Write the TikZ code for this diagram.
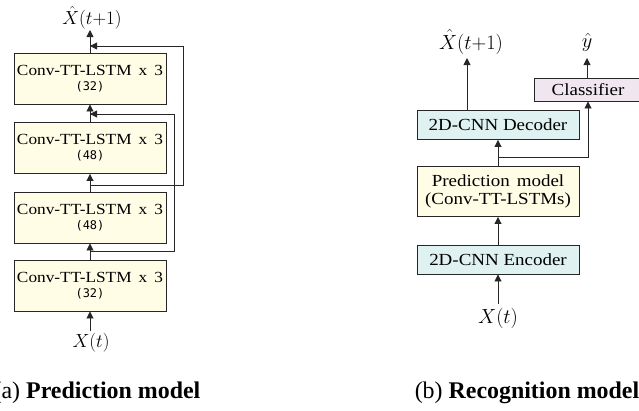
\RequirePackage{fix-cm}
\documentclass[tikz,border=0pt]{standalone}
\usepackage{fontspec}
\setmainfont{Liberation Serif}[FakeStretch=1.12]
\newfontfamily\capfont{Liberation Serif}
\newfontfamily\numfont{DejaVu Sans Mono}
\usetikzlibrary{arrows.meta}
\definecolor{boxyellow}{HTML}{FFFDE6}
\definecolor{boxcyan}{HTML}{DFF1F1}
\definecolor{boxpink}{HTML}{F0E6F0}
\newcommand\lstmtext[1]{\makebox[146bp][s]{Conv-TT-LSTM x 3}\\[-1pt]{\numfont\fontsize{12}{13}\selectfont(#1)}}
\tikzset{
  box/.style={draw=black!85, line width=0.9bp, inner sep=0pt, align=center},
  lstm/.style={box, fill=boxyellow, minimum width=152bp, minimum height=51bp, font=\fontsize{15.5}{16}\selectfont},
  cyanbox/.style={box, fill=boxcyan, minimum width=162bp, minimum height=29bp, font=\fontsize{17}{18}\selectfont},
  predbox/.style={box, fill=boxyellow, minimum width=162bp, minimum height=50bp, font=\fontsize{17}{18}\selectfont},
  clsbox/.style={box, fill=boxpink, minimum width=108bp, minimum height=23bp, font=\fontsize{17}{18}\selectfont},
  mathl/.style={inner sep=0pt, font=\fontsize{19}{22}\selectfont},
  mathr/.style={inner sep=0pt, font=\fontsize{20.5}{24}\selectfont},
  capt/.style={inner sep=0pt, font=\capfont\fontsize{24}{26}\selectfont},
  arr/.style={line width=0.9bp, draw=black!85, -{Triangle[length=7bp,width=7bp]}}
}
\begin{document}
\begin{tikzpicture}[x=1bp,y=-1bp]
\useasboundingbox (0,0) rectangle (639,410);
% ---- (a) prediction model ----
\node[lstm] (l1) at (90,78.5) {\lstmtext{32}};
\node[lstm] (l2) at (90,148) {\lstmtext{48}};
\node[lstm] (l3) at (90,217.5) {\lstmtext{48}};
\node[lstm] (l4) at (90,285.5) {\lstmtext{32}};
\node[mathl] (xo) at (92,18) {$\hat{X}(t{+}1)$};
\node[mathl] (xi) at (91,343) {$X(t)$};
\coordinate (xotip) at (90,30);
\coordinate (xitail) at (90,331);
\draw[arr] (xitail) -- (l4.south);
\draw[arr] (l4.north) -- (l3.south);
\draw[arr] (l3.north) -- (l2.south);
\draw[arr] (l2.north) -- (l1.south);
\draw[arr] (l1.north) -- (xotip);
\coordinate (s1) at (90,185);
\coordinate (s1e) at (90,46);
\coordinate (s2) at (90,251);
\coordinate (s2e) at (90,114);
\draw[arr] (s1) -- ++(93,0) |- (s1e);
\draw[arr] (s2) -- ++(84,0) |- (s2e);
\node[capt] (capa) at (97,393) {(a) \textbf{Prediction model}};
% ---- (b) recognition model ----
\node[cyanbox] (enc) at (498,259.5) {2D-CNN Encoder};
\node[predbox] (pred) at (498,191.5) {Prediction\hspace{7bp}model\\(Conv-TT-LSTMs)};
\node[cyanbox] (dec) at (498,125) {2D-CNN Decoder};
\node[clsbox] (cls) at (588,89.5) {Classifier};
\node[mathr] (xo2) at (471,42) {$\hat{X}(t{+}1)$};
\node[mathr] (yh) at (587,42) {$\hat{y}$};
\node[mathr] (xi2) at (498,318) {$X(t)$};
\coordinate (xi2tail) at (498,304);
\coordinate (br) at (498,157);
\coordinate (dtail) at (467,110.5);
\coordinate (rtip) at (0,58);
\draw[arr] (xi2tail) -- (enc.south);
\draw[arr] (enc.north) -- (pred.south);
\draw[arr] (pred.north) -- (dec.south);
\draw[arr] (br) -| (cls.south);
\draw[arr] (dtail) -- (dtail |- rtip);
\draw[arr] (cls.north -| yh) -- (yh |- rtip);
\node[capt] (capb) at (527,393) {(b) \textbf{Recognition model}};
\end{tikzpicture}
\end{document}
